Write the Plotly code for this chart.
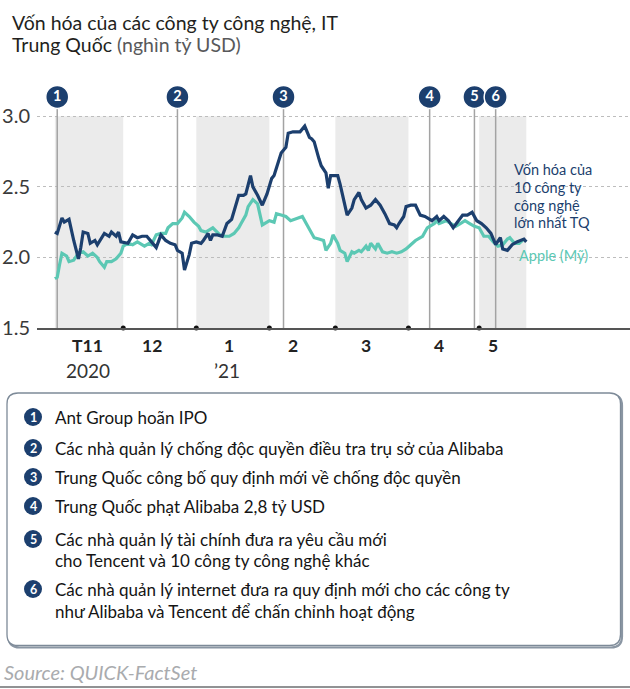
import plotly.graph_objects as go

# ---------------- DATA ----------------
cn_dates = ["2020-11-02","2020-11-03","2020-11-05","2020-11-06","2020-11-08","2020-11-09","2020-11-10","2020-11-12","2020-11-13","2020-11-14","2020-11-16","2020-11-17","2020-11-19","2020-11-20","2020-11-22","2020-11-23","2020-11-25","2020-11-26","2020-11-28","2020-11-29","2020-11-30",
            "2020-12-03","2020-12-05","2020-12-07","2020-12-09","2020-12-11","2020-12-13","2020-12-15","2020-12-17","2020-12-19","2020-12-21","2020-12-23","2020-12-24","2020-12-26","2020-12-27","2020-12-29","2020-12-30",
            "2021-01-01","2021-01-03","2021-01-04","2021-01-06","2021-01-07","2021-01-08","2021-01-10","2021-01-12","2021-01-14","2021-01-16","2021-01-17","2021-01-19","2021-01-21","2021-01-22","2021-01-24","2021-01-25","2021-01-27","2021-01-29","2021-01-31",
            "2021-02-02","2021-02-03","2021-02-05","2021-02-06","2021-02-08","2021-02-09","2021-02-11","2021-02-14","2021-02-16","2021-02-18","2021-02-19","2021-02-20","2021-02-22","2021-02-23","2021-02-25","2021-02-26","2021-02-27",
            "2021-03-02","2021-03-03","2021-03-04","2021-03-06","2021-03-08","2021-03-09","2021-03-11","2021-03-12","2021-03-14","2021-03-16","2021-03-18","2021-03-20","2021-03-22","2021-03-24","2021-03-26","2021-03-27","2021-03-28","2021-03-30","2021-03-31",
            "2021-04-02","2021-04-04","2021-04-06","2021-04-08","2021-04-11","2021-04-13","2021-04-14","2021-04-16","2021-04-18","2021-04-20","2021-04-22","2021-04-24","2021-04-26","2021-04-28","2021-04-30",
            "2021-05-02","2021-05-04","2021-05-06","2021-05-08","2021-05-10","2021-05-11","2021-05-13","2021-05-15","2021-05-17","2021-05-20","2021-05-21"]
cn_cap = [2.18,2.17,2.28,2.25,2.27,2.19,2.12,1.99,2.07,2.18,2.17,2.10,2.12,2.09,2.15,2.17,2.15,2.18,2.15,2.18,2.11,
          2.10,2.16,2.14,2.15,2.15,2.11,2.07,2.16,2.12,2.10,2.09,2.05,2.03,1.91,2.02,2.10,
          2.11,2.10,2.12,2.17,2.12,2.16,2.16,2.15,2.24,2.27,2.33,2.44,2.44,2.45,2.58,2.50,2.44,2.37,2.45,
          2.56,2.58,2.70,2.74,2.78,2.88,2.89,2.89,2.93,2.85,2.84,2.82,2.70,2.65,2.60,2.49,2.58,
          2.58,2.52,2.44,2.30,2.35,2.41,2.46,2.41,2.35,2.37,2.41,2.37,2.31,2.24,2.23,2.21,2.24,2.29,2.36,
          2.37,2.37,2.30,2.29,2.26,2.29,2.26,2.29,2.26,2.21,2.26,2.30,2.30,2.32,2.26,
          2.24,2.21,2.17,2.09,2.14,2.06,2.05,2.09,2.11,2.13,2.11]

apple_dates = ["2020-11-02","2020-11-03","2020-11-04","2020-11-05","2020-11-07","2020-11-08","2020-11-10","2020-11-12","2020-11-14","2020-11-16","2020-11-18","2020-11-20","2020-11-21","2020-11-23","2020-11-24","2020-11-26","2020-11-28","2020-11-30",
               "2020-12-01","2020-12-03","2020-12-05","2020-12-07","2020-12-10","2020-12-12","2020-12-13","2020-12-15","2020-12-17","2020-12-19","2020-12-20","2020-12-22","2020-12-24","2020-12-26","2020-12-27","2020-12-29","2020-12-31",
               "2021-01-02","2021-01-03","2021-01-05","2021-01-08","2021-01-10","2021-01-11","2021-01-13","2021-01-15","2021-01-17","2021-01-19","2021-01-20","2021-01-22","2021-01-23","2021-01-25","2021-01-27","2021-01-28","2021-01-29","2021-01-31",
               "2021-02-01","2021-02-03","2021-02-04","2021-02-06","2021-02-08","2021-02-10","2021-02-13","2021-02-15","2021-02-17","2021-02-19","2021-02-20","2021-02-22","2021-02-24","2021-02-25","2021-02-27","2021-02-28",
               "2021-03-02","2021-03-03","2021-03-05","2021-03-06","2021-03-08","2021-03-09","2021-03-11","2021-03-12","2021-03-14","2021-03-15","2021-03-16","2021-03-18","2021-03-19","2021-03-21","2021-03-23","2021-03-25","2021-03-27","2021-03-29","2021-03-31",
               "2021-04-02","2021-04-04","2021-04-07","2021-04-09","2021-04-10","2021-04-12","2021-04-13","2021-04-14","2021-04-17","2021-04-19","2021-04-21","2021-04-23","2021-04-25","2021-04-27","2021-04-29",
               "2021-05-01","2021-05-03","2021-05-05","2021-05-07","2021-05-09","2021-05-11","2021-05-13","2021-05-14","2021-05-16","2021-05-18","2021-05-20"]
apple_cap = [1.85,1.86,1.95,2.03,2.01,1.97,1.98,2.03,2.04,2.01,2.03,2.00,1.97,1.93,1.97,1.97,1.99,2.03,
             2.08,2.10,2.09,2.11,2.08,2.10,2.09,2.16,2.17,2.17,2.21,2.24,2.24,2.28,2.32,2.29,2.25,
             2.22,2.19,2.18,2.21,2.18,2.16,2.15,2.15,2.17,2.21,2.24,2.30,2.36,2.41,2.38,2.31,2.23,2.25,
             2.26,2.25,2.31,2.30,2.29,2.26,2.28,2.29,2.23,2.17,2.14,2.13,2.12,2.05,2.10,2.16,
             2.10,2.05,2.03,1.97,2.04,2.03,2.05,2.04,2.08,2.05,2.10,2.06,2.10,2.04,2.03,2.04,2.03,2.04,2.06,
             2.09,2.12,2.15,2.21,2.22,2.24,2.26,2.24,2.26,2.24,2.22,2.24,2.26,2.24,2.22,
             2.21,2.15,2.15,2.11,2.08,2.09,2.13,2.14,2.10,2.10,2.13]

event_nums = ["1", "2", "3", "4", "5", "6"]
event_dates = ["2020-11-03", "2020-12-24", "2021-02-07", "2021-04-10", "2021-04-29", "2021-05-08"]
event_texts = [
    ["Ant Group hoãn IPO"],
    ["Các nhà quản lý chống độc quyền điều tra trụ sở của Alibaba"],
    ["Trung Quốc công bố quy định mới về chống độc quyền"],
    ["Trung Quốc phạt Alibaba 2,8 tỷ USD"],
    ["Các nhà quản lý tài chính đưa ra yêu cầu mới", "cho Tencent và 10 công ty công nghệ khác"],
    ["Các nhà quản lý internet đưa ra quy định mới cho các công ty", "như Alibaba và Tencent để chấn chỉnh hoạt động"],
]

month_labels = ["T11", "12", "1", "2", "3", "4", "5"]
month_label_dates = ["2020-11-16", "2020-12-13", "2021-01-15", "2021-02-11", "2021-03-14", "2021-04-14", "2021-05-07"]
year_labels = ["2020", "’21"]
year_label_dates = ["2020-11-16", "2021-01-14"]
month_starts = ["2020-12-01", "2021-01-01", "2021-02-01", "2021-03-01", "2021-04-01", "2021-05-01"]
shade_starts = ["2020-11-02", "2021-01-01", "2021-03-01", "2021-05-01"]
shade_ends = ["2020-12-01", "2021-02-01", "2021-04-01", "2021-05-21"]
y_ticks = [1.5, 2.0, 2.5, 3.0]
y_ticktext = ["1.5", "2.0", "2.5", "3.0"]

title_1 = "Vốn hóa của các công ty công nghệ, IT"
title_2a = "Trung Quốc"
title_2b = "(nghìn tỷ USD)"
cn_label = ["Vốn hóa của", "10 công ty", "công nghệ", "lớn nhất TQ"]
apple_label = "Apple (Mỹ)"
source = "Source: QUICK-FactSet"

# ---------------- STYLE / LAYOUT ----------------
W, H = 630, 689
L, R, T, B = 37, 0, 81, 361
PW, PH = W - L - R, H - T - B
NAVY = "#1c3f6e"
TEAL = "#5cc8b4"
FONT = "Lato"
EVENT_Y = 3.137


def px(xp):
    return (xp - L) / PW


def py(yp):
    return (H - B - yp) / PH


fig = go.Figure()

# shaded month bands
for s, e in zip(shade_starts, shade_ends):
    fig.add_shape(type="rect", xref="x", yref="y", x0=s, x1=e, y0=1.5, y1=3.0,
                  fillcolor="#ebebeb", line=dict(width=0), layer="below")

# event vertical lines
ev_x, ev_y = [], []
for d in event_dates:
    ev_x += [d, d, None]
    ev_y += [1.5, EVENT_Y, None]
fig.add_trace(go.Scatter(x=ev_x, y=ev_y, mode="lines", line=dict(color="#a3a3a3", width=1.5),
                         hoverinfo="skip", showlegend=False, cliponaxis=False))

# data lines
fig.add_trace(go.Scatter(x=apple_dates, y=apple_cap, mode="lines",
                         line=dict(color=TEAL, width=3.2), showlegend=False))
fig.add_trace(go.Scatter(x=cn_dates, y=cn_cap, mode="lines",
                         line=dict(color=NAVY, width=3.2), showlegend=False))

# month tick dots
fig.add_trace(go.Scatter(x=month_starts, y=[1.5] * len(month_starts), mode="markers",
                         marker=dict(color="#111111", size=5), showlegend=False, cliponaxis=False,
                         hoverinfo="skip"))

# event circles
fig.add_trace(go.Scatter(x=event_dates, y=[EVENT_Y] * len(event_dates), mode="markers+text",
                         text=["<b>%s</b>" % n for n in event_nums], textposition="middle center",
                         textfont=dict(color="white", size=14.5, family=FONT),
                         marker=dict(color=NAVY, size=23, line=dict(color="white", width=1.5)),
                         showlegend=False, cliponaxis=False, hoverinfo="skip"))

ann = []
# title
ann.append(dict(x=px(10), y=py(22), xref="paper", yref="paper", xanchor="left", yanchor="middle",
                text=title_1, showarrow=False, font=dict(family=FONT, size=19.5, color="#231f20")))
ann.append(dict(x=px(10), y=py(45), xref="paper", yref="paper", xanchor="left", yanchor="middle",
                text=title_2a + " <span style='color:#58595b'>" + title_2b + "</span>", showarrow=False,
                font=dict(family=FONT, size=19.5, color="#231f20")))

# x month labels
for d, t in zip(month_label_dates, month_labels):
    ann.append(dict(x=d, y=py(345), xref="x", yref="paper", xanchor="center", yanchor="middle",
                    text="<b>%s</b>" % t, showarrow=False, font=dict(family=FONT, size=17.5, color="#222222")))
for d, t in zip(year_label_dates, year_labels):
    ann.append(dict(x=d, y=py(370), xref="x", yref="paper", xanchor="center", yanchor="middle",
                    text=t, showarrow=False, font=dict(family=FONT, size=19, color="#333333")))

# series labels
for i, t in enumerate(cn_label):
    ann.append(dict(x=px(512), y=py(169.5 + i * 17.8), xref="paper", yref="paper", xanchor="left",
                    yanchor="middle", text=t, showarrow=False, font=dict(family=FONT, size=14.5, color=NAVY)))
ann.append(dict(x=px(517), y=py(255), xref="paper", yref="paper", xanchor="left", yanchor="middle",
                text=apple_label, showarrow=False, font=dict(family=FONT, size=14.5, color=TEAL)))


# legend box (rounded rectangle)
def rounded_path(x0, y0, x1, y1, r):
    pts = [
        ("M", [(x0 + r, y0)]), ("L", [(x1 - r, y0)]), ("Q", [(x1, y0), (x1, y0 + r)]),
        ("L", [(x1, y1 - r)]), ("Q", [(x1, y1), (x1 - r, y1)]), ("L", [(x0 + r, y1)]),
        ("Q", [(x0, y1), (x0, y1 - r)]), ("L", [(x0, y0 + r)]), ("Q", [(x0, y0), (x0 + r, y0)]),
    ]
    s = ""
    for cmd, ps in pts:
        s += cmd + " " + " ".join("%.5f,%.5f" % (px(a), py(b)) for a, b in ps) + " "
    return s + "Z"


fig.add_shape(type="path", xref="paper", yref="paper", path=rounded_path(8.5, 394.5, 622, 647.5, 11),
              line=dict(color="#8a96a3", width=2.2), fillcolor="rgba(0,0,0,0)", layer="above")
fig.add_shape(type="path", xref="paper", yref="paper", path=rounded_path(7, 393, 620.5, 645.5, 11),
              line=dict(color="#7d8a98", width=1.3), fillcolor="white", layer="above")

item_y = [[417], [448], [477], [506], [539, 560], [589, 611]]
for num, lines, ys in zip(event_nums, event_texts, item_y):
    cx, cy, r = 33, ys[0], 9
    fig.add_shape(type="circle", xref="paper", yref="paper", x0=px(cx - r), x1=px(cx + r),
                  y0=py(cy + r), y1=py(cy - r), fillcolor=NAVY, line=dict(width=0), layer="above")
    ann.append(dict(x=px(cx), y=py(cy), xref="paper", yref="paper", xanchor="center", yanchor="middle",
                    text="<b>%s</b>" % num, showarrow=False, font=dict(family=FONT, size=12.5, color="white")))
    for t, yy in zip(lines, ys):
        ann.append(dict(x=px(53), y=py(yy), xref="paper", yref="paper", xanchor="left", yanchor="middle",
                        text=t, showarrow=False, font=dict(family=FONT, size=17, color="#141414")))

# source + bottom rule
ann.append(dict(x=px(2), y=py(672), xref="paper", yref="paper", xanchor="left", yanchor="middle",
                text="<i>%s</i>" % source, showarrow=False, font=dict(family=FONT, size=20, color="#a9abae")))
fig.add_shape(type="line", xref="paper", yref="paper", x0=px(0), x1=px(630), y0=py(687), y1=py(687),
              line=dict(color="#6d6e71", width=1.5))

fig.update_layout(
    width=W, height=H, margin=dict(l=L, r=R, t=T, b=B),
    paper_bgcolor="white", plot_bgcolor="white",
    annotations=ann, showlegend=False,
    font=dict(family=FONT),
    xaxis=dict(type="date", range=["2020-10-25 10:00", "2021-07-04"], showgrid=False, showticklabels=False,
               ticks="", showline=True, linecolor="#555555", linewidth=2, zeroline=False, fixedrange=True),
    yaxis=dict(range=[1.5, 3.25], tickvals=y_ticks, ticktext=y_ticktext, showgrid=True,
               gridcolor="#bdbdbd", griddash="dot", gridwidth=1, zeroline=False, ticks="",
               ticklabelstandoff=6,
               tickfont=dict(family=FONT, size=20, color="#3a3a3a"), showline=False, fixedrange=True),
)

fig.write_html("out.html", config={"displayModeBar": False},
               post_script="document.body.style.margin='0';document.body.style.overflow='hidden';")
